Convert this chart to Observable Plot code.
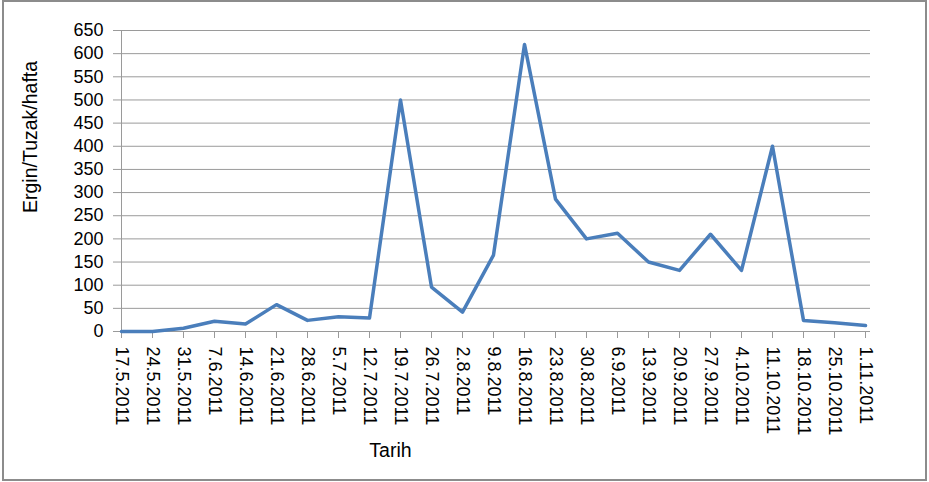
<!DOCTYPE html>
<html><head><meta charset="utf-8">
<script src="https://cdn.jsdelivr.net/npm/d3@7"></script>
<script src="https://cdn.jsdelivr.net/npm/@observablehq/plot@0.6"></script>
<style>
body{margin:0;background:#fff}
#wrap{position:relative;width:929px;height:482px;overflow:hidden}
#border{position:absolute;left:2px;top:0px;width:921px;height:477px;border:2px solid #8c8c8c;pointer-events:none}
</style>
</head><body><div id="wrap"><div id="chart"></div><div id="border"></div></div>
<script>
const dates = ["17.5.2011","24.5.2011","31.5.2011","7.6.2011","14.6.2011","21.6.2011","28.6.2011","5.7.2011","12.7.2011","19.7.2011","26.7.2011","2.8.2011","9.8.2011","16.8.2011","23.8.2011","30.8.2011","6.9.2011","13.9.2011","20.9.2011","27.9.2011","4.10.2011","11.10.2011","18.10.2011","25.10.2011","1.11.2011"];
const values = [0,0,7,22,16,58,24,32,29,500,96,42,165,620,286,200,212,150,132,210,132,400,24,19,13];
const yTicks = [0,50,100,150,200,250,300,350,400,450,500,550,600,650];
const xTitle = "Tarih";
const yTitle = "Ergin/Tuzak/hafta";

const data = dates.map((d, i) => ({date: d, value: values[i]}));
const grid = "#9a9a9a";

const chart = Plot.plot({
  width: 929, height: 482,
  marginLeft: 120, marginRight: 59, marginTop: 30, marginBottom: 151,
  style: {fontFamily: "'Liberation Sans', Arial, sans-serif", fontSize: "18px", color: "#000", background: "#fff", overflow: "visible"},
  x: {type: "point", domain: dates, padding: 0, insetRight: 5},
  y: {domain: [0, 650]},
  marks: [
    Plot.ruleY(yTicks, {stroke: grid, strokeWidth: 1}),
    Plot.ruleX([dates[0]], {stroke: grid, strokeWidth: 1}),
    Plot.axisY({ticks: yTicks, tickSize: 7, tickPadding: 10, stroke: grid, label: null, fill: "#000", fontSize: 18}),
    Plot.axisX({tickSize: 7, tickRotate: 90, tickPadding: 8, stroke: grid, label: null, fill: "#000", fontSize: 18}),
    Plot.line(data, {x: "date", y: "value", stroke: "#4A7EBB", strokeWidth: 3.5, strokeLinejoin: "round", strokeLinecap: "round"}),
    Plot.text([yTitle], {frameAnchor: "left", rotate: -90, dx: -90, dy: 32, fontSize: 19.5, fill: "#000"}),
    Plot.text([xTitle], {frameAnchor: "bottom", dx: -105, dy: 125, fontSize: 19.5, fill: "#000"})
  ]
});
document.getElementById("chart").appendChild(chart);
</script>
</body></html>
